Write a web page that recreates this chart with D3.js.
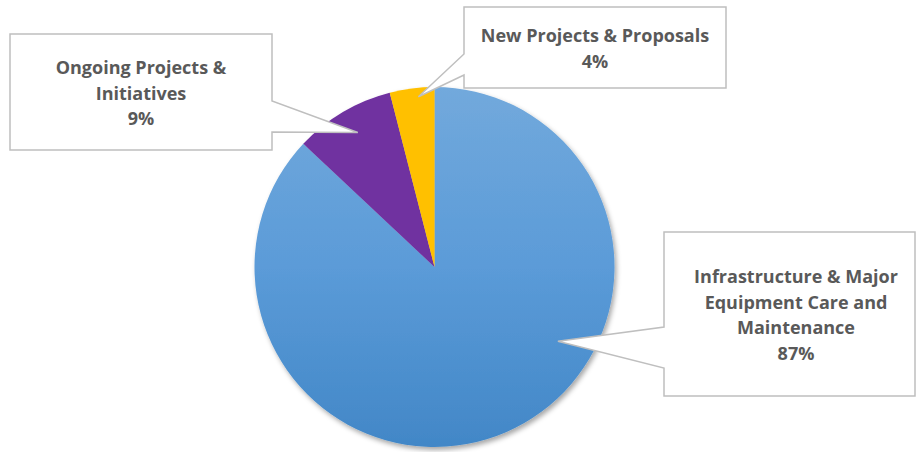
<!DOCTYPE html>
<html>
<head>
<meta charset="utf-8">
<script src="https://cdn.jsdelivr.net/npm/d3@7"></script>
<style>
  html, body { margin: 0; padding: 0; background: #fff; }
  svg { display: block; }
</style>
</head>
<body>
<svg id="chart" width="917" height="452"></svg>
<script>
// ---- data ----
const categories = [
  "Infrastructure & Major Equipment Care and Maintenance",
  "Ongoing Projects & Initiatives",
  "New Projects & Proposals"
];
const values = [87, 9, 4];
const percentLabels = ["87%", "9%", "4%"];
const labelLines = [
  ["Infrastructure & Major", "Equipment Care and", "Maintenance"],
  ["Ongoing Projects &", "Initiatives"],
  ["New Projects & Proposals"]
];
const colors = ["url(#blueGrad)", "#7030a0", "#ffc000"];

// ---- layout (positions only) ----
const cx = 434.5, cy = 267, R = 180;
const callouts = [
  { box: [664, 232, 251, 164], side: "left",  join: [327, 368], tipAngle: 121, tipR: 0.80, tx: 796 },
  { box: [10, 34, 262, 116],   side: "right", join: [101, 132], tipAngle: 330.3, tipR: 0.86, tx: 141 },
  { box: [464, 7, 262, 81],    side: "left",  join: [54, 75],   tipAngle: 354.6, tipR: 0.95, tx: 595 }
];
const lineH = 25.5;

const svg = d3.select("#chart");
const defs = svg.append("defs");
const grad = defs.append("linearGradient").attr("id", "blueGrad")
  .attr("gradientUnits", "userSpaceOnUse")
  .attr("x1", 0).attr("y1", -R).attr("x2", 0).attr("y2", R);
grad.append("stop").attr("offset", "0%").attr("stop-color", "#72a9dc");
grad.append("stop").attr("offset", "50%").attr("stop-color", "#5b9bd8");
grad.append("stop").attr("offset", "100%").attr("stop-color", "#4287c7");

const shadow = defs.append("filter").attr("id", "shadow")
  .attr("x", "-20%").attr("y", "-20%").attr("width", "140%").attr("height", "140%");
shadow.append("feDropShadow").attr("dx", 2).attr("dy", 3)
  .attr("stdDeviation", 2.5).attr("flood-color", "#000").attr("flood-opacity", 0.35);

const pie = d3.pie().sort(null).value(d => d)
  .startAngle(0).endAngle(2 * Math.PI);
const arcs = pie(values);
const arc = d3.arc().innerRadius(0).outerRadius(R);

const g = svg.append("g").attr("transform", `translate(${cx},${cy})`);
const pieG = g.append("g").attr("filter", "url(#shadow)");
pieG.selectAll("path.slice").data(arcs).enter().append("path")
  .attr("class", "slice")
  .attr("d", arc)
  .attr("fill", (d, i) => colors[i]);

// ---- callouts ----
const fontFamily = "'Open Sans', Lato, sans-serif";
callouts.forEach((c, i) => {
  const [x, y, w, h] = c.box;
  const a = c.tipAngle * Math.PI / 180;
  const tipX = cx + Math.sin(a) * R * c.tipR;
  const tipY = cy - Math.cos(a) * R * c.tipR;
  let p;
  if (c.side === "left") {
    p = [[x, y], [x + w, y], [x + w, y + h], [x, y + h], [x, c.join[1]], [tipX, tipY], [x, c.join[0]]];
  } else {
    p = [[x, y], [x + w, y], [x + w, c.join[0]], [tipX, tipY], [x + w, c.join[1]], [x + w, y + h], [x, y + h]];
  }
  svg.append("path")
    .attr("d", d3.line()(p) + "Z")
    .attr("fill", "#fff")
    .attr("stroke", "#bfbfbf")
    .attr("stroke-width", 1.5);

  const lines = labelLines[i].concat([percentLabels[i]]);
  const blockH = (lines.length - 1) * lineH;
  const firstBase = y + h / 2 - blockH / 2 + 7.5;
  const t = svg.append("text")
    .attr("font-family", fontFamily)
    .attr("font-weight", 700)
    .attr("font-size", 18)
    .attr("fill", "#595959")
    .attr("text-anchor", "middle");
  lines.forEach((ln, k) => {
    t.append("tspan").attr("x", c.tx).attr("y", firstBase + k * lineH).text(ln);
  });
});
</script>
</body>
</html>
